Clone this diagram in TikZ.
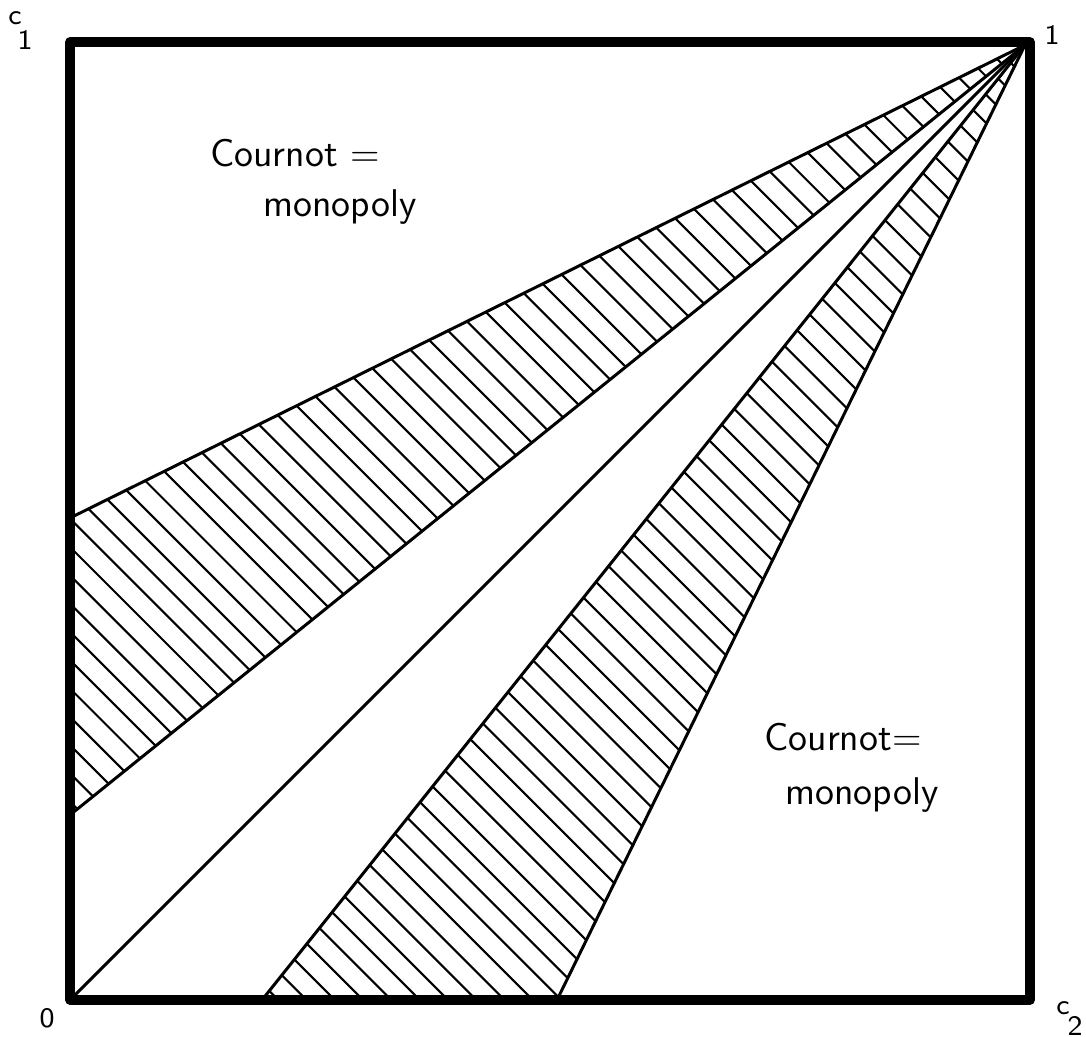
\documentclass[tikz,border=0pt]{standalone}
\usepackage{tikz}
\usetikzlibrary{positioning}

\begin{document}
\begin{tikzpicture}[
    frame/.style={line width=2.6pt, line join=round},
    edge/.style={line width=0.85pt},
    hatch/.style={line width=0.6pt},
    label/.style={font=\sffamily\fontsize{11}{12}\selectfont, inner sep=0pt},
    corner/.style={font=\sffamily\footnotesize, inner sep=0pt}
]
    \useasboundingbox (-0.70,-0.36) rectangle (10.16,10.00);

    % Points
    \coordinate (o) at (0,0);
    \coordinate (one) at (9.6,9.58);
    \coordinate (apex) at (9.55,9.55);
    \coordinate (uptop) at (0,4.82);
    \coordinate (upbot) at (0,1.85);
    \coordinate (lowleft) at (1.92,0);
    \coordinate (lowright) at (4.87,0);

    % Hatching
    \begin{scope}
        \clip (uptop) -- (apex) -- (upbot) -- cycle;
        \foreach \c in {1.70,1.983,...,19.3}
            \draw[hatch] (-1,\c+1) -- (\c+1,-1);
    \end{scope}
    \begin{scope}
        \clip (lowleft) -- (apex) -- (lowright) -- cycle;
        \foreach \c in {1.80,2.083,...,19.3}
            \draw[hatch] (-1,\c+1) -- (\c+1,-1);
    \end{scope}

    % Bands and diagonal
    \draw[edge] (uptop) -- (apex);
    \draw[edge] (upbot) -- (apex);
    \draw[edge] (o) -- (apex);
    \draw[edge] (lowleft) -- (apex);
    \draw[edge] (lowright) -- (apex);

    % Square
    \draw[frame] (o) rectangle (one);

    % Labels
    \node[label] (cournotA) at (2.25,8.47) {Cournot =};
    \node[label] (monoA) at (2.70,7.93) {monopoly};
    \node[label] (cournotB) at (7.73,2.63) {Cournot=};
    \node[label] (monoB) at (7.92,2.05) {monopoly};

    \node[corner] (cone) at (-0.55,9.82) {c};
    \node[corner] (cone1) at (-0.45,9.60) {1};
    \node[corner] (oneL) at (9.82,9.65) {1};
    \node[corner] (zero) at (-0.23,-0.18) {0};
    \node[corner] (ctwo) at (9.93,-0.08) {c};
    \node[corner] (ctwo2) at (10.05,-0.26) {2};
\end{tikzpicture}
\end{document}
